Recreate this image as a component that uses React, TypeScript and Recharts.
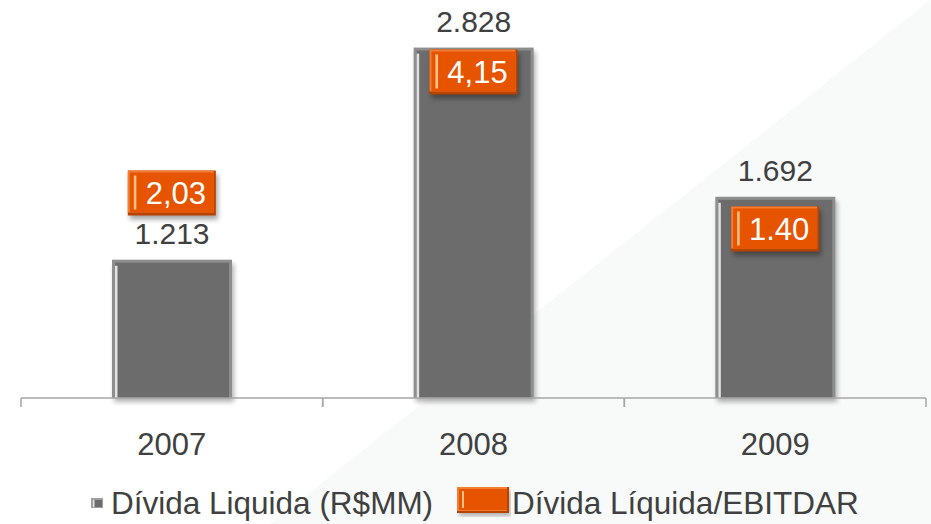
import React from "react";
import { Bar, ComposedChart, LabelList, Legend, Line, XAxis, YAxis } from "recharts";

// chart values
const years = ["2007", "2008", "2009"];
const netDebt = [1213, 2828, 1692];
const debtToEbitdar = [2.03, 4.15, 1.4];
const ratioLabels = ["2,03", "4,15", "1.40"];

const data = years.map((year, i) => ({
  year,
  netDebt: netDebt[i],
  ratio: debtToEbitdar[i],
  ratioLabel: ratioLabels[i],
}));

const W = 931;
const H = 524;
const MARGIN = { top: 25, right: 5, bottom: 86, left: 21 };
const BAND = (W - MARGIN.left - MARGIN.right) / years.length;
const FONT = '"Liberation Sans", Arial, sans-serif';
const TEXT = "#404040";
const ORANGE = "#E65400";
const GRAY = "#6C6C6C";
const AXIS = "#A6A6A6";

const fmtThousands = (v: number) => String(v).replace(/\B(?=(\d{3})+(?!\d))/g, ".");

const BevelBar = (props: any) => {
  const { x, y, width, height } = props;
  if (!height || height <= 0) return null;
  return (
    <g>
      <rect x={x + 2} y={y + 4} width={width} height={height} fill="#000" opacity={0.3} filter="url(#soft)" />
      <rect x={x} y={y} width={width} height={height} fill="#8E8E8E" />
      <rect x={x + 3} y={y + 3} width={width - 6} height={height - 3} fill={GRAY} />
      <rect x={x + 3} y={y + 6} width={2.5} height={height - 6} fill="#E2E2E2" />
    </g>
  );
};

const ValueLabel = (props: any) => {
  const { x, y, width, value } = props;
  return (
    <text x={x + width / 2} y={y - 16} textAnchor="middle" fill={TEXT} fontSize={30} fontFamily={FONT}>
      {fmtThousands(value)}
    </text>
  );
};

const RatioMarker = (props: any) => {
  const { cx, cy, payload } = props;
  if (cx == null || cy == null) return null;
  const w = 88;
  const h = 45;
  const x = cx - w / 2;
  const y = cy - h / 2;
  return (
    <g>
      <rect x={x + 2} y={y + 4} width={w} height={h} fill="#000" opacity={0.35} filter="url(#soft)" />
      <rect x={x} y={y} width={w} height={h} fill="#B84300" />
      <rect x={x} y={y} width={w - 2} height={h - 3} fill="#F27D35" />
      <rect x={x + 2} y={y + 2} width={w - 4} height={h - 5} fill={ORANGE} />
      <rect x={x + 6} y={y + 5} width={2.5} height={h - 11} fill="#FFC08A" />
      <text x={cx + 4} y={cy + 11} textAnchor="middle" fill="#fff" fontSize={31} fontFamily={FONT}>
        {payload.ratioLabel}
      </text>
    </g>
  );
};

const YearTick = (props: any) => {
  const { x, y, payload } = props;
  const half = BAND / 2;
  return (
    <g>
      <line x1={x - half} x2={x - half} y1={y} y2={y + 9} stroke={AXIS} strokeWidth={1.5} />
      <line x1={x + half} x2={x + half} y1={y} y2={y + 9} stroke={AXIS} strokeWidth={1.5} />
      <text x={x} y={y + 57} textAnchor="middle" fill={TEXT} fontSize={31} fontFamily={FONT}>
        {payload.value}
      </text>
    </g>
  );
};

const LegendContent = () => (
  <div
    style={{
      position: "relative",
      height: 36,
      fontFamily: FONT,
      fontSize: 31.5,
      lineHeight: "36px",
      color: TEXT,
      whiteSpace: "nowrap",
    }}
  >
    <svg style={{ position: "absolute", left: 91, top: 13 }} width={12} height={10}>
      <rect x={0} y={0} width={12} height={10} fill="#A0A0A0" />
      <rect x={2} y={2} width={9} height={7} fill={GRAY} />
      <rect x={2} y={2} width={1.5} height={7} fill="#E2E2E2" />
    </svg>
    <span style={{ position: "absolute", left: 111, top: 0 }}>Dívida Liquida (R$MM)</span>
    <svg style={{ position: "absolute", left: 457, top: 2 }} width={54} height={30}>
      <rect x={2} y={3} width={52} height={26} fill="#000" opacity={0.3} filter="url(#soft)" />
      <rect x={0} y={0} width={52} height={26} fill="#B84300" />
      <rect x={0} y={0} width={50} height={24} fill="#F27D35" />
      <rect x={2} y={2} width={48} height={21} fill={ORANGE} />
      <rect x={5} y={4} width={2} height={17} fill="#FFC08A" />
    </svg>
    <span style={{ position: "absolute", left: 512, top: 0 }}>Dívida Líquida/EBITDAR</span>
  </div>
);

export default function App() {
  return (
    <div style={{ position: "absolute", left: 0, top: 0, width: W, height: H, overflow: "hidden", background: "#fff" }}>
      {/* slide background: faint diagonal panel on the right */}
      <svg style={{ position: "absolute", left: 0, top: 0 }} width={W} height={H}>
        <defs>
          <filter id="soft" x="-20%" y="-20%" width="140%" height="140%">
            <feGaussianBlur stdDeviation="2.5" />
          </filter>
        </defs>
        <polygon points={`930,0 ${W},0 ${W},${H} 270,${H}`} fill="#F8F9F9" />
      </svg>
      <div style={{ position: "absolute", left: 0, top: 0 }}>
        <ComposedChart width={W} height={H} data={data} margin={MARGIN}>
          <XAxis
            dataKey="year"
            height={40}
            tickLine={false}
            tickSize={0}
            tickMargin={0}
            axisLine={{ stroke: AXIS, strokeWidth: 1.5 }}
            tick={<YearTick />}
            interval={0}
          />
          <YAxis yAxisId="debt" hide domain={[160, 3000]} />
          <YAxis yAxisId="ratio" hide orientation="right" domain={[-1.561, 4.973]} />
          <Bar yAxisId="debt" dataKey="netDebt" barSize={120} shape={<BevelBar />} isAnimationActive={false}>
            <LabelList dataKey="netDebt" content={<ValueLabel />} />
          </Bar>
          <Line
            yAxisId="ratio"
            dataKey="ratio"
            stroke="none"
            strokeWidth={0}
            dot={(p: any) => <RatioMarker key={`m-${p.index}`} {...p} />}
            activeDot={false}
            isAnimationActive={false}
          />
          <Legend
            layout="horizontal"
            verticalAlign="middle"
            align="center"
            content={<LegendContent />}
            wrapperStyle={{ top: 485, left: 0, width: W, height: 36 }}
          />
        </ComposedChart>
      </div>
    </div>
  );
}
